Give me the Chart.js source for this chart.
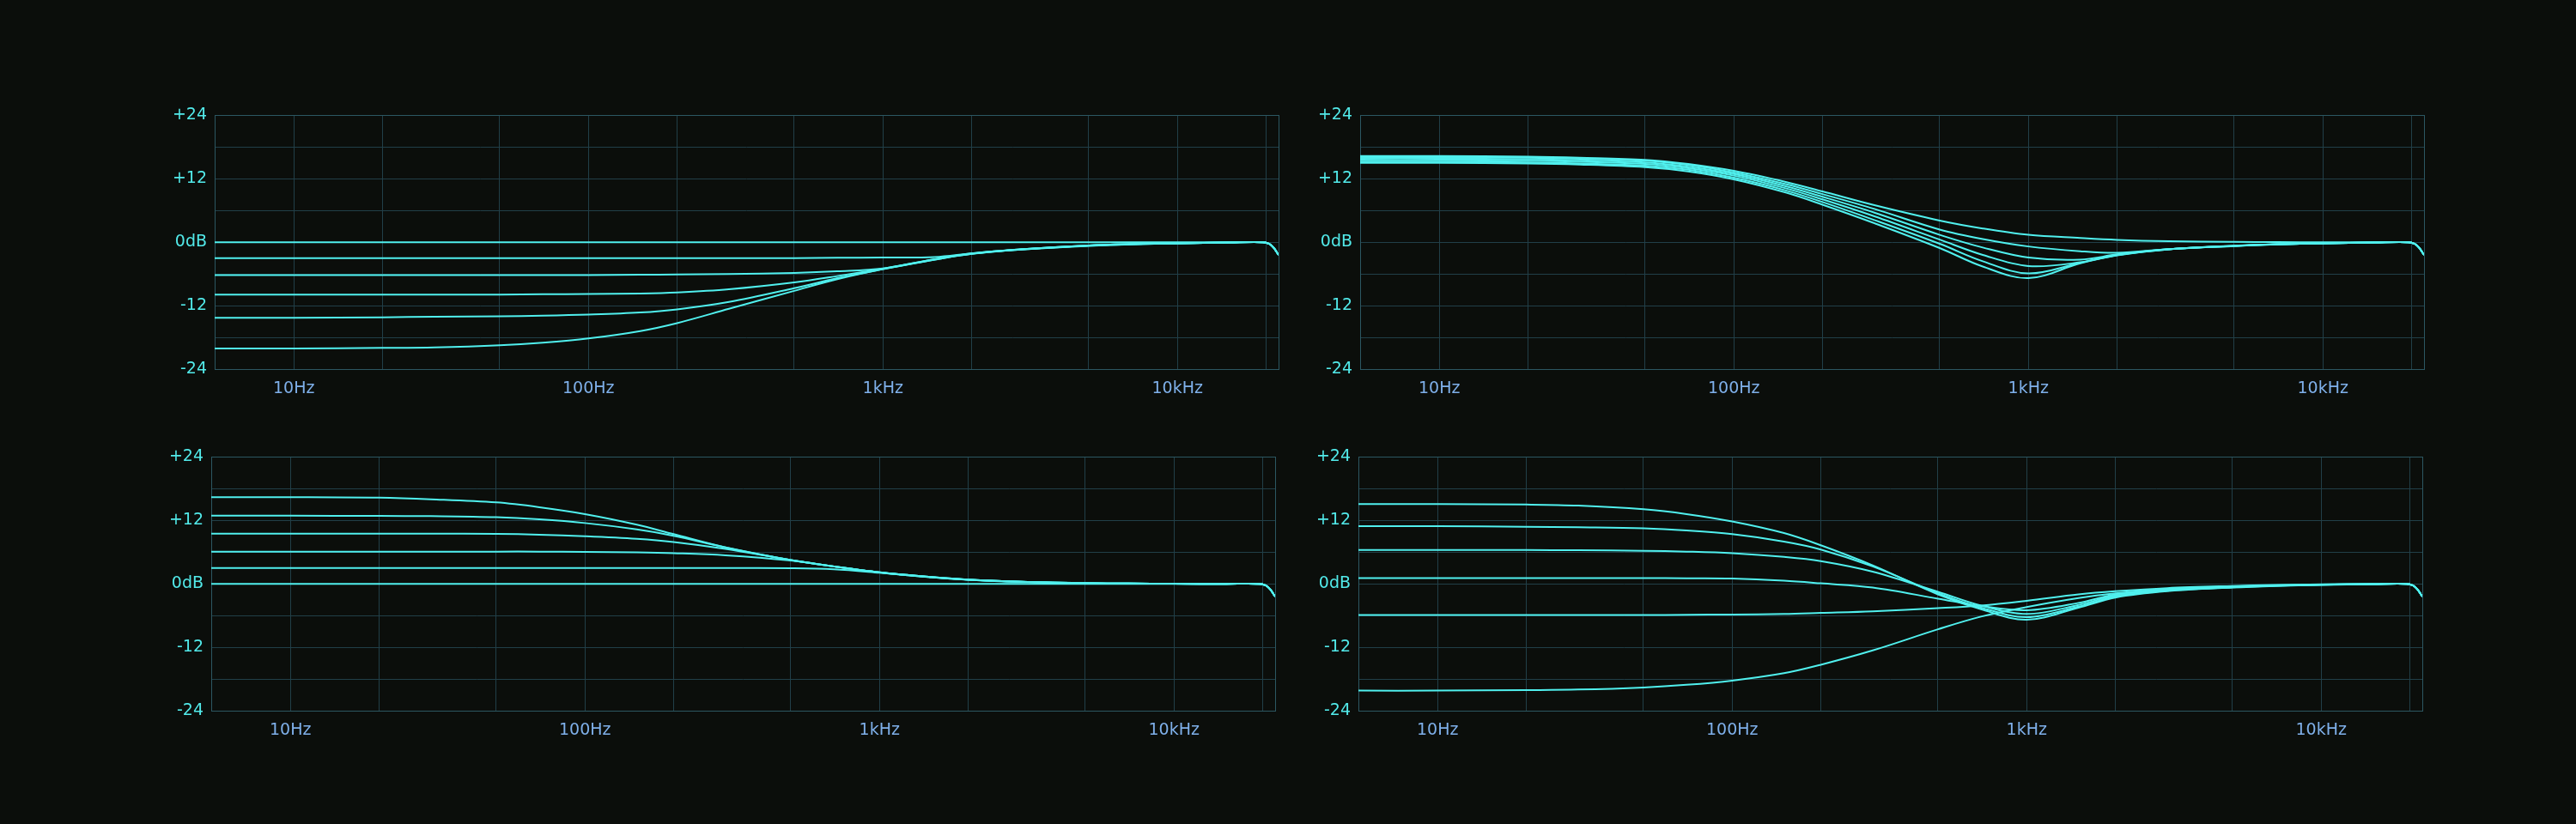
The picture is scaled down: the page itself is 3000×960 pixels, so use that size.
<!DOCTYPE html>
<html>
<head>
<meta charset="utf-8">
<script src="https://cdn.jsdelivr.net/npm/chart.js@4"></script>
<style>
  html, body { margin: 0; padding: 0; background: #0b0e0b; }
  body { width: 3000px; height: 960px; position: relative; overflow: hidden; }
  .panel { position: absolute; }
</style>
</head>
<body>
<script>
// frequency points (Hz) shared by every curve
const FREQS = [5.383, 10, 20, 30, 50, 70, 100, 150, 200, 300, 500, 700, 1000, 1500, 2000, 3000, 5000, 7000, 10000, 15000, 19500, 20500, 21200, 22050];
const GRID_FREQS = [10, 20, 50, 100, 200, 500, 1000, 2000, 5000, 10000, 20000];
const FREQ_LABELS = { 10: '10Hz', 100: '100Hz', 1000: '1kHz', 10000: '10kHz' };
const DB_LABELS = { 24: '+24', 12: '+12', 0: '0dB', '-12': '-12', '-24': '-24' };

// top-left: low shelf cut
const shelfCut = [
  [0, 0, 0, 0, 0, 0, 0, 0, 0, 0, 0, 0, 0, 0, 0, 0, 0, 0, 0, 0, 0, -0.3, -1.0, -2.4],
  [-3.0, -3.0, -3.0, -3.0, -3.0, -3.0, -3.0, -3.0, -3.0, -3.0, -3.0, -2.95, -2.9, -2.8, -2.1, -1.3, -0.6, -0.35, -0.2, -0.05, 0, -0.3, -1.0, -2.4],
  [-6.2, -6.2, -6.2, -6.2, -6.2, -6.2, -6.2, -6.15, -6.1, -6.0, -5.8, -5.5, -4.95, -3.2, -2.1, -1.3, -0.6, -0.35, -0.2, -0.05, 0, -0.3, -1.0, -2.4],
  [-9.9, -9.9, -9.9, -9.9, -9.9, -9.85, -9.8, -9.7, -9.5, -8.9, -7.6, -6.4, -5.0, -3.2, -2.15, -1.3, -0.6, -0.35, -0.2, -0.05, 0, -0.3, -1.0, -2.4],
  [-14.3, -14.3, -14.2, -14.1, -14.0, -13.9, -13.7, -13.3, -12.7, -11.3, -8.7, -6.8, -5.1, -3.3, -2.2, -1.35, -0.65, -0.38, -0.2, -0.05, 0, -0.3, -1.0, -2.4],
  [-20.1, -20.1, -20.0, -19.9, -19.5, -19.0, -18.2, -16.8, -15.3, -12.6, -9.2, -7.0, -5.1, -3.3, -2.2, -1.35, -0.7, -0.4, -0.22, -0.05, 0, -0.3, -1.0, -2.4]
];

// top-right: low shelf boost with dip
const shelfDip = [
  [16.3, 16.3, 16.2, 16.0, 15.6, 14.8, 13.5, 11.4, 9.6, 7.0, 4.1, 2.6, 1.4, 0.8, 0.45, 0.2, 0.08, 0.03, 0, 0, 0, -0.3, -1.0, -2.4],
  [16.1, 16.1, 16.0, 15.8, 15.4, 14.6, 13.2, 11.0, 9.1, 6.3, 2.4, 0.6, -0.8, -1.7, -2.0, -1.3, -0.65, -0.37, -0.2, -0.05, 0, -0.3, -1.0, -2.4],
  [15.8, 15.8, 15.7, 15.5, 15.1, 14.3, 12.9, 10.6, 8.6, 5.6, 1.4, -1.0, -2.9, -3.3, -2.3, -1.3, -0.68, -0.38, -0.2, -0.05, 0, -0.3, -1.0, -2.4],
  [15.5, 15.5, 15.4, 15.2, 14.8, 14.0, 12.6, 10.2, 8.1, 4.9, 0.5, -2.4, -4.5, -3.8, -2.4, -1.32, -0.7, -0.39, -0.2, -0.05, 0, -0.3, -1.0, -2.4],
  [15.2, 15.2, 15.1, 14.9, 14.5, 13.7, 12.2, 9.8, 7.6, 4.2, -0.3, -3.6, -5.9, -3.9, -2.45, -1.34, -0.7, -0.4, -0.2, -0.05, 0, -0.3, -1.0, -2.4],
  [15.0, 15.0, 14.9, 14.7, 14.2, 13.4, 11.9, 9.4, 7.1, 3.6, -1.1, -4.6, -6.8, -4.0, -2.5, -1.35, -0.72, -0.4, -0.2, -0.05, 0, -0.3, -1.0, -2.4]
];

// bottom-left: low shelf boost
const shelfBoost = [
  [0, 0, 0, 0, 0, 0, 0, 0, 0, 0, 0, 0, 0, 0, 0, 0, 0, 0, 0, 0, 0, -0.3, -1.0, -2.4],
  [3.0, 3.0, 3.0, 3.0, 3.0, 3.0, 3.0, 3.0, 3.0, 3.0, 2.95, 2.75, 2.1, 1.25, 0.78, 0.38, 0.13, 0.06, 0.02, 0, 0, -0.3, -1.0, -2.4],
  [6.1, 6.1, 6.1, 6.1, 6.1, 6.1, 6.05, 5.95, 5.8, 5.4, 4.4, 3.3, 2.15, 1.25, 0.78, 0.38, 0.13, 0.06, 0.02, 0, 0, -0.3, -1.0, -2.4],
  [9.5, 9.5, 9.5, 9.5, 9.45, 9.3, 9.0, 8.5, 7.9, 6.6, 4.5, 3.3, 2.2, 1.3, 0.8, 0.4, 0.14, 0.06, 0.02, 0, 0, -0.3, -1.0, -2.4],
  [12.9, 12.9, 12.85, 12.8, 12.6, 12.2, 11.5, 10.3, 9.1, 6.9, 4.5, 3.3, 2.2, 1.3, 0.8, 0.4, 0.14, 0.06, 0.02, 0, 0, -0.3, -1.0, -2.4],
  [16.4, 16.4, 16.3, 16.0, 15.4, 14.5, 13.2, 11.2, 9.4, 6.9, 4.5, 3.3, 2.2, 1.3, 0.8, 0.4, 0.14, 0.06, 0.02, 0, 0, -0.3, -1.0, -2.4]
];

// bottom-right: shelf boost and cut crossing
const shelfCross = [
  [15.1, 15.1, 15.0, 14.8, 14.1, 13.2, 11.8, 9.6, 7.3, 3.5, -2.0, -4.8, -6.8, -4.5, -2.6, -1.4, -0.7, -0.4, -0.2, -0.05, 0, -0.3, -1.0, -2.4],
  [10.9, 10.9, 10.8, 10.7, 10.5, 10.1, 9.4, 8.0, 6.5, 3.3, -1.8, -4.5, -6.3, -4.3, -2.4, -1.3, -0.65, -0.37, -0.18, -0.05, 0, -0.3, -1.0, -2.4],
  [6.4, 6.4, 6.4, 6.35, 6.25, 6.1, 5.8, 5.1, 4.3, 2.3, -1.5, -4.1, -5.7, -4.0, -2.2, -1.2, -0.6, -0.35, -0.17, -0.05, 0, -0.3, -1.0, -2.4],
  [1.1, 1.1, 1.1, 1.1, 1.1, 1.05, 1.0, 0.6, 0.1, -0.7, -2.8, -4.2, -5.0, -3.6, -2.0, -1.1, -0.55, -0.3, -0.15, -0.04, 0, -0.3, -1.0, -2.4],
  [-5.9, -5.9, -5.9, -5.9, -5.9, -5.85, -5.8, -5.7, -5.5, -5.2, -4.6, -4.1, -3.2, -2.0, -1.4, -0.8, -0.4, -0.22, -0.1, -0.03, 0, -0.3, -1.0, -2.4],
  [-20.2, -20.2, -20.1, -20.0, -19.6, -19.1, -18.3, -16.9, -15.3, -12.6, -8.6, -6.2, -4.4, -2.7, -1.8, -1.0, -0.5, -0.28, -0.13, -0.03, 0, -0.3, -1.0, -2.4]
];

const LINE = '#50f0ee';
const GRID = '#213f48';
const FRAME = '#2c5762';
const Y_AXIS_W = 70, X_AXIS_H = 50, PAD_T = 20, PAD_R = 20;

// draws the edges of the plot box
const framePlugin = {
  id: 'frame',
  beforeDatasetsDraw(chart) {
    const a = chart.chartArea, ctx = chart.ctx;
    ctx.save();
    ctx.strokeStyle = FRAME;
    ctx.lineWidth = 1;
    ctx.strokeRect(Math.round(a.left) + 0.5, Math.round(a.top) + 0.5, Math.round(a.right - a.left), Math.round(a.bottom - a.top));
    ctx.restore();
  }
};

function makePanel(curves, left, top, w, h) {
  const div = document.createElement('div');
  div.className = 'panel';
  div.style.left = (left - Y_AXIS_W) + 'px';
  div.style.top = (top - PAD_T) + 'px';
  const cw = w + Y_AXIS_W + PAD_R, ch = h + PAD_T + X_AXIS_H;
  const canvas = document.createElement('canvas');
  canvas.width = cw; canvas.height = ch;
  canvas.style.width = cw + 'px'; canvas.style.height = ch + 'px';
  div.appendChild(canvas);
  document.body.appendChild(div);

  new Chart(canvas, {
    type: 'line',
    data: {
      datasets: curves.map(c => ({
        data: FREQS.map((f, i) => ({ x: f, y: c[i] })),
        borderColor: LINE,
        borderWidth: 2,
        pointRadius: 0,
        tension: 0.35,
        fill: false
      }))
    },
    options: {
      responsive: false,
      animation: false,
      layout: { padding: { top: PAD_T, right: PAD_R, left: 0, bottom: 0 } },
      plugins: { legend: { display: false }, tooltip: { enabled: false } },
      scales: {
        x: {
          type: 'logarithmic',
          min: 5.383, max: 22050,
          afterBuildTicks: s => { s.ticks = GRID_FREQS.map(v => ({ value: v })); },
          afterFit: s => { s.height = X_AXIS_H; },
          grid: { color: GRID, drawTicks: false },
          border: { display: false },
          ticks: {
            autoSkip: false, maxRotation: 0, padding: 12,
            color: '#7fb0ea',
            font: { family: 'DejaVu Sans', size: 19 },
            callback: v => FREQ_LABELS[v] || ''
          }
        },
        y: {
          min: -24, max: 24,
          afterFit: s => { s.width = Y_AXIS_W; },
          grid: { color: GRID, drawTicks: false },
          border: { display: false },
          ticks: {
            stepSize: 6, padding: 9,
            color: '#52eaea',
            font: { family: 'DejaVu Sans', size: 19 },
            callback: v => (DB_LABELS[v] !== undefined ? DB_LABELS[v] : '')
          }
        }
      }
    },
    plugins: [framePlugin]
  });
}

makePanel(shelfCut, 250, 134, 1239, 296);
makePanel(shelfDip, 1584, 134, 1239, 296);
makePanel(shelfBoost, 246, 532, 1239, 296);
makePanel(shelfCross, 1582, 532, 1239, 296);
</script>
</body>
</html>
